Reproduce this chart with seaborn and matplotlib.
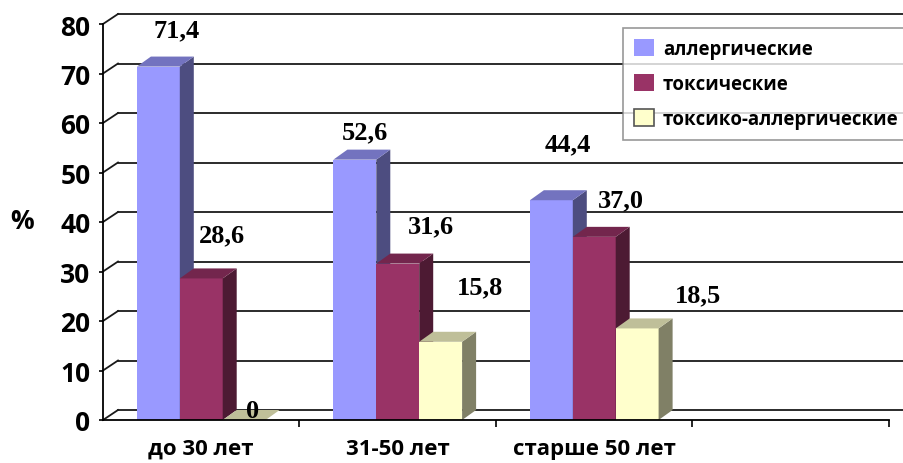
import matplotlib
matplotlib.use("Agg")
import matplotlib.pyplot as plt
import matplotlib.colors as mcolors
from matplotlib.patches import Polygon, Patch
from matplotlib.lines import Line2D
import seaborn as sns
import pandas as pd
import numpy as np

# ---------------- data ----------------
categories = ["до 30 лет", "31-50 лет", "старше 50 лет"]
series = ["аллергические", "токсические", "токсико-аллергические"]
allergic = [71.4, 52.6, 44.4]
toxic = [28.6, 31.6, 37.0]
toxic_allergic = [0.0, 15.8, 18.5]
value_labels = [["71,4", "52,6", "44,4"],
                ["28,6", "31,6", "37,0"],
                ["0", "15,8", "18,5"]]
y_ticks = [0, 10, 20, 30, 40, 50, 60, 70, 80]

# ---------------- style ----------------
colors = ["#9999FF", "#993366", "#FFFFCC"]
label_offsets_px = [[(18, 37), (10, 28), (16, 56)],
                    [(21, 44), (33, 38), (27, 37)],
                    [(8, 9), (39, 55), (61, 34)]]
W, H = 904, 464
WALL_D = (15, 10)   # depth offset of back wall, px
BAR_D = (14, 10)    # depth offset of bars, px
SANS = "Open Sans"

df = pd.DataFrame({
    "category": categories * 3,
    "series": [s for s in series for _ in categories],
    "value": allergic + toxic + toxic_allergic,
})

fig = plt.figure(figsize=(W / 100, H / 100), dpi=100)
ax = fig.add_axes([103 / W, 43 / H, 786 / W, 396 / H])
ax.set_facecolor("none")

sns.barplot(data=df, x="category", y="value", hue="series", order=categories,
            hue_order=series, palette=colors, saturation=1, width=0.655,
            errorbar=None, legend=False, linewidth=0, ax=ax)

ax.set_xlim(-0.5, 3.5)
ax.set_ylim(0, 80)

def px(x, y):
    """data -> figure pixel coords"""
    return ax.transData.transform((x, y))

INCH = fig.dpi_scale_trans

# back wall gridlines and side-wall diagonals
for t in y_ticks:
    x0, y0 = px(-0.5, t)
    x1, _ = px(3.5, t)
    bx0, by0 = x0 + WALL_D[0], y0 + WALL_D[1]
    bx1 = x1 + WALL_D[0]
    ax.add_artist(Line2D([bx0 / 100, bx1 / 100], [by0 / 100, by0 / 100],
                         transform=INCH, color="#1a1a1a", lw=1.3, zorder=0.5, clip_on=False))
    ax.add_artist(Line2D([x0 / 100, bx0 / 100], [y0 / 100, by0 / 100],
                         transform=INCH, color="#1a1a1a", lw=1.3, zorder=0.5, clip_on=False))

# 3D faces for bars
patches = list(ax.patches)
z = 2.0
for i, p in enumerate(patches):
    fc = np.array(mcolors.to_rgb(p.get_facecolor()))
    side_c = fc * 0.5
    top_c = fc * 0.75
    xa = p.get_x()
    xb = p.get_x() + p.get_width()
    h = p.get_height()
    (ax_, ay_) = px(xa, h)
    (bx_, by_) = px(xb, h)
    (_, b0) = px(xb, 0)
    dx, dy = BAR_D
    p.set_zorder(z)
    side = Polygon(np.array([[bx_, b0], [bx_, by_], [bx_ + dx, by_ + dy], [bx_ + dx, b0 + dy]]) / 100,
                   closed=True, transform=INCH, facecolor=side_c,
                   edgecolor="none", zorder=z + 0.01, clip_on=False)
    top = Polygon(np.array([[ax_, ay_], [bx_, by_], [bx_ + dx, by_ + dy], [ax_ + dx, ay_ + dy]]) / 100,
                  closed=True, transform=INCH, facecolor=top_c,
                  edgecolor="none", zorder=z + 0.02, clip_on=False)
    ax.add_artist(side)
    ax.add_artist(top)
    z += 0.1

# value labels
for si in range(3):
    for ci in range(3):
        p = patches[si * 3 + ci]
        cx = p.get_x() + p.get_width() / 2
        ox, oy = label_offsets_px[si][ci]
        ax.annotate(value_labels[si][ci], xy=(cx, p.get_height()), xytext=(ox, oy),
                    textcoords="offset pixels", ha="center", va="center",
                    fontsize=19, fontweight="bold", family="Liberation Serif",
                    color="black", zorder=20, annotation_clip=False)

# axes styling
for s in ["top", "right"]:
    ax.spines[s].set_visible(False)
for s in ["left", "bottom"]:
    ax.spines[s].set_color("black")
    ax.spines[s].set_linewidth(1.3)
    ax.spines[s].set_zorder(10)

ax.set_yticks(y_ticks)
ax.set_yticklabels([str(t) for t in y_ticks], fontsize=19, fontweight="bold", family=SANS)
ax.tick_params(axis="y", direction="out", length=3, width=1.2, pad=6)

ax.set_xticks([0.5, 1.5, 2.5, 3.5])
ax.set_xticklabels([])
ax.tick_params(axis="x", which="major", direction="out", length=5, width=1.2)
ax.set_xticks([0, 1, 2], minor=True)
ax.set_xticklabels(categories, minor=True, fontsize=16, fontweight="bold", family=SANS)
ax.tick_params(axis="x", which="minor", length=0, pad=13)
ax.set_xlabel("")
ax.set_ylabel("")

fig.text(22 / W, 1 - 222 / H, "%", ha="center", va="center", fontsize=19,
         fontweight="bold", family=SANS)

handles = [Patch(facecolor=colors[0], edgecolor="none"),
           Patch(facecolor=colors[1], edgecolor="none"),
           Patch(facecolor=colors[2], edgecolor="#555555", linewidth=1.2)]
leg = fig.legend(handles, series, loc="upper left", bbox_to_anchor=(623 / W, 1 - 29 / H),
                 bbox_transform=fig.transFigure, frameon=True, fancybox=False,
                 borderaxespad=0, borderpad=0.6, handlelength=1.05, handleheight=1.05,
                 handletextpad=0.5, labelspacing=0.8,
                 prop={"family": SANS, "weight": "bold", "size": 13.4})
leg.get_frame().set_edgecolor("#7f7f7f")
leg.get_frame().set_linewidth(1.2)
leg.set_zorder(30)

fig.savefig("out.png", dpi=100)
